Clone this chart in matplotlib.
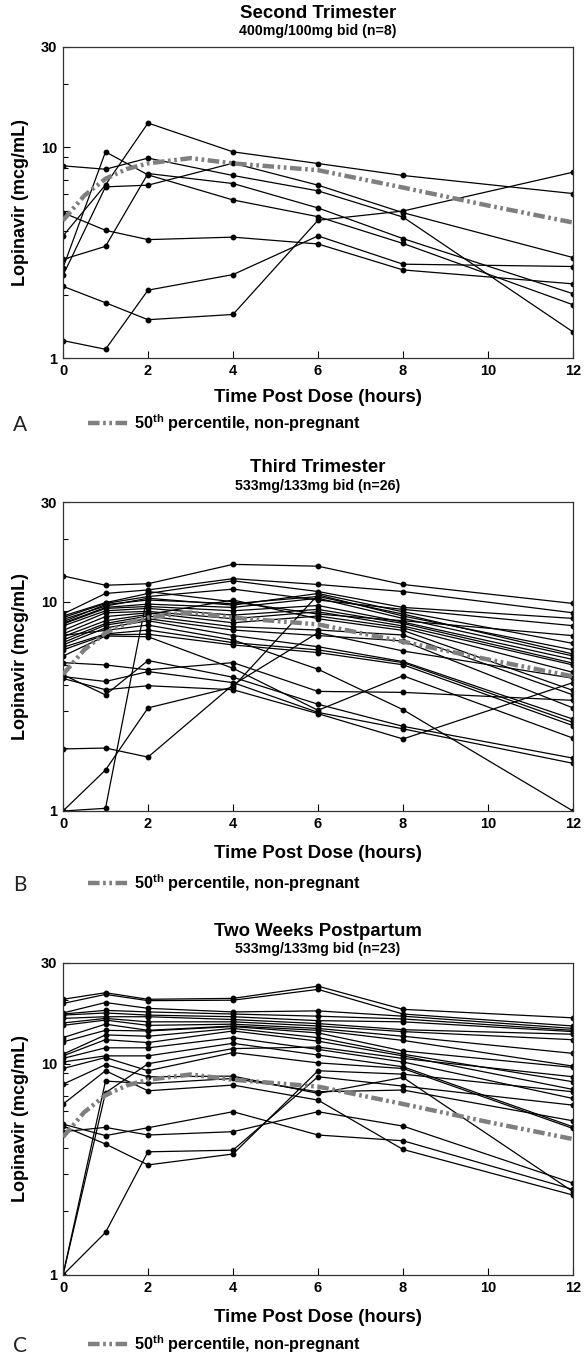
import matplotlib.pyplot as plt
from matplotlib.lines import Line2D
from matplotlib.ticker import LogLocator, NullFormatter, FixedLocator

plt.rcParams['font.family'] = ['Liberation Sans', 'DejaVu Sans']
plt.rcParams['mathtext.fontset'] = 'custom'
plt.rcParams['mathtext.rm'] = 'Liberation Sans:bold'
plt.rcParams['mathtext.it'] = 'Liberation Sans:bold'

# sampling times (hours post dose)
hours = [0, 1, 2, 4, 6, 8, 12]

# 50th percentile, non-pregnant
median_hours = [0, 0.5, 1, 1.5, 2, 3, 4, 6, 8, 10, 12]
median_conc = [4.5, 5.9, 7.1, 7.9, 8.4, 8.9, 8.4, 7.8, 6.45, 5.3, 4.4]

# A: second trimester, one row per subject
second_tri = [
    [8.18, 7.88, 8.90, 7.36, 6.22, 4.67, 1.33],
    [4.90, 4.04, 3.65, 3.75, 3.48, 2.62, 2.25],
    [1.21, 1.10, 2.10, 2.49, 3.80, 2.79, 2.72],
    [2.19, 1.83, 1.52, 1.61, 4.51, 4.99, 7.63],
    [2.94, 3.39, 7.52, 6.74, 5.16, 3.69, 2.02],
    [3.80, 6.64, 13.06, 9.53, 8.39, 7.36, 6.04],
    [2.68, 9.53, 7.41, 5.63, 4.69, 3.50, 1.79],
    [2.47, 6.50, 6.62, 8.42, 6.62, 4.90, 3.00],
]

# B: third trimester
third_tri = [
    [13.3, 12.0, 12.2, 15.1, 14.8, 12.1, 9.82],
    [8.74, 10.96, 11.4, 12.9, 12.1, 11.2, 8.86],
    [1.0, 1.03, 11.2, 10.0, 8.74, 8.12, 6.89],
    [1.0, 1.57, 3.11, 3.91, 10.8, 8.55, 5.89],
    [1.98, 2.0, 1.81, 4.01, 7.12, 5.82, 4.31],
    [6.9, 7.3, 7.74, 6.57, 4.76, 3.05, 1.0],
    [4.3, 3.80, 3.97, 3.80, 2.92, 2.21, 4.11],
    [5.12, 4.99, 4.73, 5.12, 3.73, 3.69, 3.38],
    [4.48, 3.59, 5.24, 4.36, 3.24, 2.54, 1.79],
    [4.39, 4.16, 4.64, 4.11, 2.96, 2.47, 1.69],
    [8.55, 9.9, 10.96, 12.6, 11.2, 9.4, 8.33],
    [8.4, 9.82, 10.6, 11.5, 10.2, 9.2, 7.69],
    [8.24, 9.54, 10.4, 9.64, 10.96, 8.96, 6.33],
    [8.03, 9.7, 10.2, 9.8, 10.6, 8.74, 5.63],
    [7.9, 9.4, 9.75, 9.4, 10.4, 8.33, 5.51],
    [7.83, 9.3, 9.5, 9.06, 9.6, 8.0, 5.3],
    [7.66, 9.06, 9.30, 8.64, 9.2, 7.88, 5.09],
    [7.3, 8.86, 9.0, 8.3, 8.96, 7.66, 4.99],
    [7.02, 8.5, 8.86, 7.94, 8.55, 7.5, 4.6],
    [6.81, 8.12, 8.7, 10.2, 8.3, 7.3, 3.77],
    [6.57, 7.88, 8.55, 7.6, 7.33, 6.94, 3.59],
    [6.38, 7.74, 8.3, 7.33, 6.9, 6.5, 3.11],
    [6.22, 7.5, 8.12, 6.9, 6.10, 5.18, 2.75],
    [6.06, 7.02, 7.33, 6.38, 5.89, 5.12, 2.65],
    [5.89, 6.95, 7.0, 6.22, 5.72, 5.0, 2.56],
    [5.5, 6.86, 6.81, 4.81, 3.03, 4.43, 2.23],
]

# C: two weeks postpartum
postpartum = [
    [20.2, 21.7, 20.2, 20.4, 23.3, 18.1, 16.5],
    [19.3, 21.3, 19.9, 20.0, 22.5, 17.2, 15.1],
    [1.0, 7.29, 10.0, 11.8, 12.0, 10.6, 8.68],
    [1.0, 8.28, 8.07, 8.52, 7.37, 7.51, 5.37],
    [1.0, 1.59, 3.83, 3.90, 8.68, 7.84, 6.37],
    [5.18, 4.57, 4.98, 5.93, 4.60, 4.32, 2.54],
    [5.07, 4.17, 3.32, 3.74, 9.27, 8.93, 7.37],
    [4.77, 5.0, 4.60, 4.77, 5.93, 5.07, 2.72],
    [17.4, 19.5, 18.3, 17.6, 17.8, 16.8, 14.7],
    [17.2, 17.9, 17.6, 17.2, 16.8, 16.3, 14.4],
    [17.0, 17.4, 17.0, 16.7, 16.0, 15.8, 14.2],
    [16.4, 16.7, 16.7, 16.2, 15.5, 14.5, 13.8],
    [15.6, 16.4, 15.8, 15.8, 15.1, 14.2, 13.0],
    [15.2, 16.1, 15.2, 15.4, 14.7, 13.5, 11.2],
    [13.3, 15.4, 14.4, 15.1, 14.4, 12.9, 9.75],
    [12.7, 14.4, 14.3, 15.0, 14.0, 11.5, 9.61],
    [11.1, 13.7, 13.5, 14.7, 13.3, 11.1, 8.22],
    [10.9, 13.0, 12.6, 14.3, 12.8, 10.9, 7.56],
    [10.6, 11.9, 11.9, 13.3, 11.7, 10.2, 6.85],
    [10.2, 10.9, 10.9, 12.5, 11.0, 9.68, 5.03],
    [9.5, 10.7, 9.27, 11.3, 10.1, 9.5, 4.94],
    [8.0, 9.9, 8.68, 8.74, 7.24, 8.62, 2.48],
    [6.44, 9.27, 7.45, 7.93, 6.73, 3.93, 2.39],
]

titles = ['Second Trimester', 'Third Trimester', 'Two Weeks Postpartum']
subtitles = ['400mg/100mg bid (n=8)', '533mg/133mg bid (n=26)', '533mg/133mg bid (n=23)']
letters = ['A', 'B', 'C']
yticks = [1, 10, 30]
xticks = [0, 2, 4, 6, 8, 10, 12]

W, H = 584, 1355
fig = plt.figure(figsize=(W / 100, H / 100), dpi=100)


def fx(px):
    return px / W


def fy(py):
    return 1 - py / H


# pixel layout per panel: axes top, axes bottom, title, subtitle, xlabel, legend row
layout = [
    (47, 358, 13, 31, 397, 423),
    (502, 811, 468, 486, 853, 883),
    (963, 1275, 931, 949, 1317, 1344),
]
ax_left, ax_right = 63, 573
dash = (0, (2.6, 0.8, 0.6, 0.8, 0.6, 0.8))

for data, title, sub, letter, (top, bot, ty, sy, xly, ly) in zip(
        [second_tri, third_tri, postpartum], titles, subtitles, letters, layout):
    ax = fig.add_axes([fx(ax_left), fy(bot), fx(ax_right - ax_left), (bot - top) / H])
    for row in data:
        ax.plot(hours, row, color='black', lw=0.9, marker='o', ms=3.2, zorder=2)
    ax.plot(median_hours, median_conc, color='#7f7f7f', lw=3.2, linestyle=dash, zorder=3)

    ax.set_yscale('log')
    ax.set_ylim(1, 30)
    ax.set_xlim(0, 12)
    ax.yaxis.set_major_locator(FixedLocator(yticks))
    ax.set_yticklabels([str(t) for t in yticks])
    ax.yaxis.set_minor_locator(LogLocator(subs=range(2, 10)))
    ax.yaxis.set_minor_formatter(NullFormatter())
    ax.set_xticks(xticks)
    ax.tick_params(which='both', direction='in', top=False, right=False)
    ax.tick_params(which='major', length=5, width=0.8, labelsize=10.5, pad=4)
    ax.tick_params(which='minor', length=3.5, width=0.8)
    for lab in ax.get_xticklabels() + ax.get_yticklabels():
        lab.set_fontweight('bold')
    for s in ax.spines.values():
        s.set_linewidth(0.9)
        s.set_color('#333333')

    cx = fx((ax_left + ax_right) / 2)
    fig.text(cx, fy(ty), title, ha='center', va='center', fontsize=13.4, fontweight='bold')
    fig.text(cx, fy(sy), sub, ha='center', va='center', fontsize=10.2, fontweight='bold')
    fig.text(cx, fy(xly), 'Time Post Dose (hours)', ha='center', va='center',
             fontsize=13.4, fontweight='bold')
    fig.text(fx(21), fy((top + bot) / 2), 'Lopinavir (mcg/mL)', ha='center', va='center',
             rotation=90, fontsize=13, fontweight='bold')
    # panel letter, baseline just under the legend row
    fig.text(fx(20), fy(ly + 8), letter, ha='center', va='baseline', fontsize=15,
             family=['Lato', 'DejaVu Sans'], color='#222222')

    fig.add_artist(Line2D([fx(88), fx(129)], [fy(ly), fy(ly)], transform=fig.transFigure,
                          color='#7f7f7f', lw=3.2, linestyle=dash))
    fig.text(fx(134), fy(ly), r'50$^{\mathrm{th}}$ percentile, non-pregnant', ha='left',
             va='center', fontsize=11.7, fontweight='bold')

fig.savefig('out.png', dpi=100)
